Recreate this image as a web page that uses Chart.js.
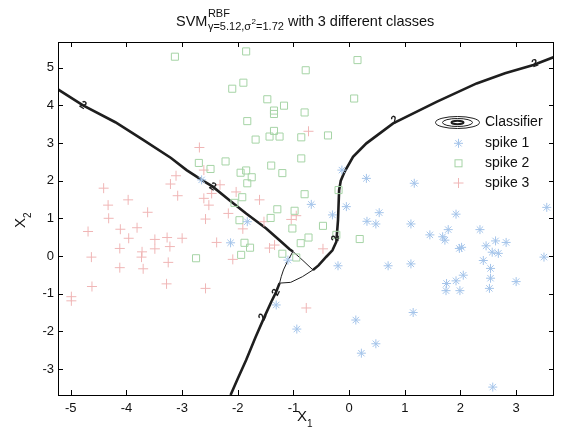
<!DOCTYPE html>
<html>
<head>
<meta charset="utf-8">
<script src="https://cdn.jsdelivr.net/npm/chart.js@4.4.1/dist/chart.umd.min.js"></script>
<style>
html,body{margin:0;padding:0;background:#fff;}
#wrap{width:564px;height:437px;}
</style>
</head>
<body>
<div id="wrap"><canvas id="c" width="564" height="437"></canvas></div>
<script>
// ---------- data ----------
const xTicks = [-5,-4,-3,-2,-1,0,1,2,3];
const yTicks = [-3,-2,-1,0,1,2,3,4,5];
const xRange = [-5.23, 3.68];
const yRange = [-3.69, 5.68];

const spike1 = [[-2.65,2.02],[-0.68,1.37],[-1.83,0.91],[-2.13,0.35],[-1.10,-0.11],[-1.31,-1.30],
 [-0.20,-0.26],[-0.94,-1.94],[0.12,-1.70],[0.48,-2.33],[0.22,-2.58],[0.32,0.92],[0.48,0.85],
 [-0.13,2.28],[0.31,2.06],[1.17,1.93],[-0.30,1.09],[-0.05,1.31],[0.54,1.15],[1.11,0.85],
 [1.92,1.11],[1.45,0.56],[1.78,0.70],[1.68,0.51],[1.72,0.42],[2.35,0.70],[1.98,0.20],[2.02,0.23],
 [2.46,0.27],[2.63,0.40],[2.82,0.36],[2.57,0.10],[2.68,0.07],[3.55,1.29],[3.50,-0.03],
 [0.70,-0.26],[1.11,-0.21],[2.41,-0.12],[2.54,-0.33],[2.05,-0.51],[1.92,-0.66],[1.75,-0.73],
 [1.74,-0.92],[1.99,-0.92],[2.54,-0.59],[2.52,-0.86],[3.00,-0.68],[1.15,-1.50],[2.58,-3.48]];

const spike2 = [[-3.13,5.29],[-1.85,5.43],[-0.78,4.93],[-1.90,4.60],[-2.10,4.44],[-1.47,4.16],
 [-1.17,3.99],[-1.35,3.86],[-1.35,3.77],[-0.80,3.81],[-1.83,3.58],[-1.35,3.32],[-1.43,3.17],
 [-1.25,3.17],[-0.86,3.15],[-1.68,3.09],[-0.38,3.20],[-0.86,2.59],[-1.40,2.40],[-1.20,2.20],
 [-2.70,2.47],[-2.49,2.31],[-2.22,2.51],[-1.85,2.27],[-1.95,2.21],[-1.75,2.09],[-1.83,1.93],
 [-1.92,1.56],[-2.06,1.41],[-0.80,1.64],[-1.29,1.24],[-0.98,1.20],[-1.41,1.01],[-1.97,0.95],
 [-1.02,0.73],[-0.87,0.34],[-0.73,0.49],[-1.88,0.35],[-1.78,0.22],[-1.94,0.03],[-2.75,-0.06],
 [-1.20,0.06],[-0.95,-0.04],[-0.47,0.80],[-0.23,0.56],[0.19,0.45],[0.15,5.20],[0.09,4.18],[-0.19,1.75]];

const spike3 = [[-0.73,3.31],[-2.69,2.88],[-2.61,2.28],[-3.11,2.13],[-3.21,1.91],[-2.32,1.89],
 [-4.41,1.80],[-2.47,1.66],[-3.08,1.60],[-3.97,1.49],[-2.61,1.53],[-2.52,1.35],[-4.33,1.35],
 [-2.03,1.70],[-1.61,1.49],[-3.62,1.16],[-2.17,1.13],[-4.32,1.00],[-2.58,0.98],[-4.69,0.65],
 [-4.11,0.71],[-3.81,0.75],[-3.96,0.47],[-3.49,0.44],[-3.27,0.49],[-3.00,0.47],[-4.12,0.20],
 [-3.49,0.19],[-3.22,0.25],[-3.72,0.11],[-3.73,-0.03],[-4.63,-0.03],[-2.38,0.36],[-3.25,-0.17],
 [-4.12,-0.31],[-3.70,-0.34],[-2.09,-0.09],[-1.91,0.72],[-1.43,0.21],[-1.34,0.29],[-1.04,0.97],
 [-0.95,1.07],[-4.62,-0.81],[-3.28,-0.74],[-2.58,-0.86],[-4.99,-1.08],[-4.99,-1.19],[-0.77,-1.38],
 [-1.53,0.91],[-0.47,0.19]];

// classifier boundaries (contour level 2)
const boundaryUpper = [[-5.23,4.42],[-4.78,4.00],[-4.20,3.55],[-3.70,3.08],[-3.20,2.60],[-2.92,2.28],
 [-2.65,2.02],[-2.45,1.84],[-2.15,1.48],[-1.85,1.13],[-1.49,0.73],[-1.25,0.42],[-1.07,0.18],[-1.01,0.12]];
const boundaryRight = [[3.68,5.28],[3.31,5.07],[2.80,4.85],[2.29,4.58],[1.57,4.09],[0.79,3.52],
 [0.31,2.99],[0.07,2.63],[-0.08,2.24],[-0.15,2.00],[-0.18,1.75],[-0.20,0.95],[-0.23,0.38],
 [-0.30,0.15],[-0.41,-0.02],[-0.55,-0.25],[-0.65,-0.37]];
const boundaryLower = [[-1.25,-0.72],[-1.31,-0.95],[-1.40,-1.22],[-1.52,-1.61],[-1.68,-2.15],
 [-1.85,-2.76],[-2.00,-3.25],[-2.13,-3.69]];
const thinAB = [[-1.01,0.12],[-0.83,-0.12],[-0.65,-0.37]];
const thinAC = [[-1.01,0.12],[-1.11,-0.15],[-1.18,-0.37],[-1.22,-0.55],[-1.25,-0.72]];
const thinBC = [[-0.65,-0.37],[-0.84,-0.55],[-1.05,-0.70],[-1.25,-0.72]];
const contourLabels = [[-4.78,4.00,'2'],[-2.45,1.84,'2'],[0.82,3.61,'2'],[3.34,5.11,'2'],
 [-1.31,-0.97,'2'],[-1.55,-1.62,'2'],[-0.24,0.47,'2']];

const legendItems = ['Classifier','spike 1','spike 2','spike 3'];
const titleParts = {main:'SVM', sup:'RBF', sub1:'γ=5.12,σ', subSup:'2', sub2:'=1.72', rest:' with 3 different classes'};

// ---------- styles ----------
const FONT = '"Liberation Sans", Arial, Helvetica, sans-serif';
const C1 = '#a4c4ea', C2 = '#a6d4a6', C3 = '#f0b6b6', LINE = '#1e1e1e';
const pts = a => a.map(p => ({x:p[0], y:p[1]}));

function lineDS(d, w){
  return {data: pts(d), showLine: true, pointRadius: 0, borderColor: LINE, borderWidth: w,
          backgroundColor: LINE, tension: 0, order: 2, fill: false};
}

const decor = {
  id: 'decor',
  afterDatasetsDraw(chart){
    const ctx = chart.ctx, xs = chart.scales.x, ys = chart.scales.y, a = chart.chartArea;
    ctx.save();
    // contour labels
    const paths = [boundaryUpper, boundaryRight, boundaryLower];
    ctx.fillStyle = LINE;
    ctx.font = 'bold 11px ' + FONT;
    ctx.textAlign = 'center'; ctx.textBaseline = 'middle';
    contourLabels.forEach(l => {
      const px = xs.getPixelForValue(l[0]), py = ys.getPixelForValue(l[1]);
      let best = 1e9, ang = 0;
      paths.forEach(p => {
        for (let i = 0; i < p.length - 1; i++) {
          const x1 = xs.getPixelForValue(p[i][0]), y1 = ys.getPixelForValue(p[i][1]);
          const x2 = xs.getPixelForValue(p[i+1][0]), y2 = ys.getPixelForValue(p[i+1][1]);
          const d = Math.hypot((x1+x2)/2 - px, (y1+y2)/2 - py);
          if (d < best) { best = d; ang = Math.atan2(y2 - y1, x2 - x1); }
        }
      });
      if (ang > Math.PI/2) ang -= Math.PI;
      if (ang < -Math.PI/2) ang += Math.PI;
      ctx.save();
      ctx.translate(px, py); ctx.rotate(ang);
      ctx.fillText(l[2], 0, 0);
      ctx.restore();
    });
    // box
    ctx.strokeStyle = '#000'; ctx.lineWidth = 1;
    ctx.strokeRect(Math.round(a.left)+0.5, Math.round(a.top)+0.5, Math.round(a.right-a.left)-1, Math.round(a.bottom-a.top));
    // inward ticks
    ctx.beginPath();
    xTicks.forEach(v => {
      const px = Math.round(xs.getPixelForValue(v)) + 0.5;
      ctx.moveTo(px, a.bottom); ctx.lineTo(px, a.bottom - 5);
      ctx.moveTo(px, a.top); ctx.lineTo(px, a.top + 5);
    });
    yTicks.forEach(v => {
      const py = Math.round(ys.getPixelForValue(v)) + 0.5;
      ctx.moveTo(a.left, py); ctx.lineTo(a.left + 5, py);
      ctx.moveTo(a.right, py); ctx.lineTo(a.right - 5, py);
    });
    ctx.stroke();
    ctx.restore();
  },
  afterDraw(chart){
    const ctx = chart.ctx;
    ctx.save();
    ctx.fillStyle = '#111';
    ctx.textBaseline = 'alphabetic'; ctx.textAlign = 'left';
    // title
    let x = 176;
    ctx.font = '14.5px ' + FONT; ctx.fillText(titleParts.main, x, 26);
    x += ctx.measureText(titleParts.main).width + 0.5;
    ctx.font = '11px ' + FONT; ctx.fillText(titleParts.sup, x, 17);
    const supEnd = x + ctx.measureText(titleParts.sup).width;
    ctx.fillText(titleParts.sub1, x, 30);
    let sx = x + ctx.measureText(titleParts.sub1).width;
    ctx.font = '8px ' + FONT; ctx.fillText(titleParts.subSup, sx + 0.5, 24);
    sx += ctx.measureText(titleParts.subSup).width + 0.5;
    ctx.font = '11px ' + FONT; ctx.fillText(titleParts.sub2, sx, 30);
    sx += ctx.measureText(titleParts.sub2).width;
    x = Math.max(supEnd, sx);
    ctx.font = '14.5px ' + FONT; ctx.fillText(titleParts.rest, x, 26);
    // x axis label
    ctx.font = '15px ' + FONT; ctx.fillText('X', 297, 421);
    let xw = ctx.measureText('X').width;
    ctx.font = '10px ' + FONT; ctx.fillText('1', 297 + xw, 427);
    // y axis label
    ctx.save();
    ctx.translate(25, 228); ctx.rotate(-Math.PI/2);
    ctx.font = '15px ' + FONT; ctx.fillText('X', 0, 0);
    xw = ctx.measureText('X').width;
    ctx.font = '10px ' + FONT; ctx.fillText('2', xw, 6);
    ctx.restore();
    // legend
    const lx = 457.5, tx = 485, rows = [122.5, 143.3, 163.3, 183];
    ctx.strokeStyle = LINE;
    ctx.lineWidth = 1;
    ctx.beginPath(); ctx.ellipse(lx, rows[0], 22, 6, 0, 0, Math.PI*2); ctx.stroke();
    ctx.beginPath(); ctx.ellipse(lx, rows[0], 15, 4, 0, 0, Math.PI*2); ctx.stroke();
    ctx.lineWidth = 2;
    ctx.beginPath(); ctx.ellipse(lx, rows[0], 6, 1.8, 0, 0, Math.PI*2); ctx.stroke();
    ctx.lineWidth = 1;
    let cy = rows[1], cx = lx + 1, r = 4.5;
    ctx.strokeStyle = C1; ctx.beginPath();
    ctx.moveTo(cx - r, cy); ctx.lineTo(cx + r, cy); ctx.moveTo(cx, cy - r); ctx.lineTo(cx, cy + r);
    const d = r * 0.7;
    ctx.moveTo(cx - d, cy - d); ctx.lineTo(cx + d, cy + d); ctx.moveTo(cx - d, cy + d); ctx.lineTo(cx + d, cy - d);
    ctx.stroke();
    ctx.strokeStyle = C2; ctx.strokeRect(cx - 3.5, rows[2] - 3.5, 7, 7);
    ctx.strokeStyle = C3; ctx.beginPath();
    cy = rows[3]; r = 5;
    ctx.moveTo(cx - r, cy); ctx.lineTo(cx + r, cy); ctx.moveTo(cx, cy - r); ctx.lineTo(cx, cy + r);
    ctx.stroke();
    ctx.fillStyle = '#111'; ctx.font = '14px ' + FONT; ctx.textBaseline = 'middle';
    legendItems.forEach((t, i) => ctx.fillText(t, tx, rows[i]));
    ctx.restore();
  }
};

new Chart(document.getElementById('c'), {
  type: 'scatter',
  data: {
    datasets: [
      {label:'spike 1', data: pts(spike1), pointStyle:'star', radius:4.5, borderColor:C1, backgroundColor:C1, borderWidth:1, order:0},
      {label:'spike 2', data: pts(spike2), pointStyle:'rect', radius:5, borderColor:C2, backgroundColor:'rgba(0,0,0,0)', borderWidth:1, order:0},
      {label:'spike 3', data: pts(spike3), pointStyle:'cross', radius:5, borderColor:C3, backgroundColor:C3, borderWidth:1, order:0},
      lineDS(boundaryUpper, 2.6), lineDS(boundaryRight, 2.6), lineDS(boundaryLower, 2.6),
      lineDS(thinAB, 1), lineDS(thinAC, 1), lineDS(thinBC, 1)
    ]
  },
  options: {
    responsive: false, animation: false, devicePixelRatio: 1,
    layout: {padding: {left: 0, right: 10, top: 42, bottom: 0}},
    plugins: {legend: {display: false}, tooltip: {enabled: false}, title: {display: false}},
    elements: {point: {hoverRadius: 4}},
    scales: {
      x: {
        type: 'linear', min: xRange[0], max: xRange[1],
        afterBuildTicks: s => { s.ticks = xTicks.map(v => ({value: v})); },
        afterFit: s => { s.height = 42; },
        grid: {display: false, drawTicks: false},
        border: {display: false},
        ticks: {color: '#111', font: {family: FONT, size: 13}, padding: 6, maxRotation: 0, autoSkip: false,
                callback: v => String(v)}
      },
      y: {
        type: 'linear', min: yRange[0], max: yRange[1],
        afterBuildTicks: s => { s.ticks = yTicks.map(v => ({value: v})); },
        afterFit: s => { s.width = 58; },
        grid: {display: false, drawTicks: false},
        border: {display: false},
        ticks: {color: '#111', font: {family: FONT, size: 13}, padding: 4, autoSkip: false,
                callback: v => String(v)}
      }
    }
  },
  plugins: [decor]
});
</script>
</body>
</html>
